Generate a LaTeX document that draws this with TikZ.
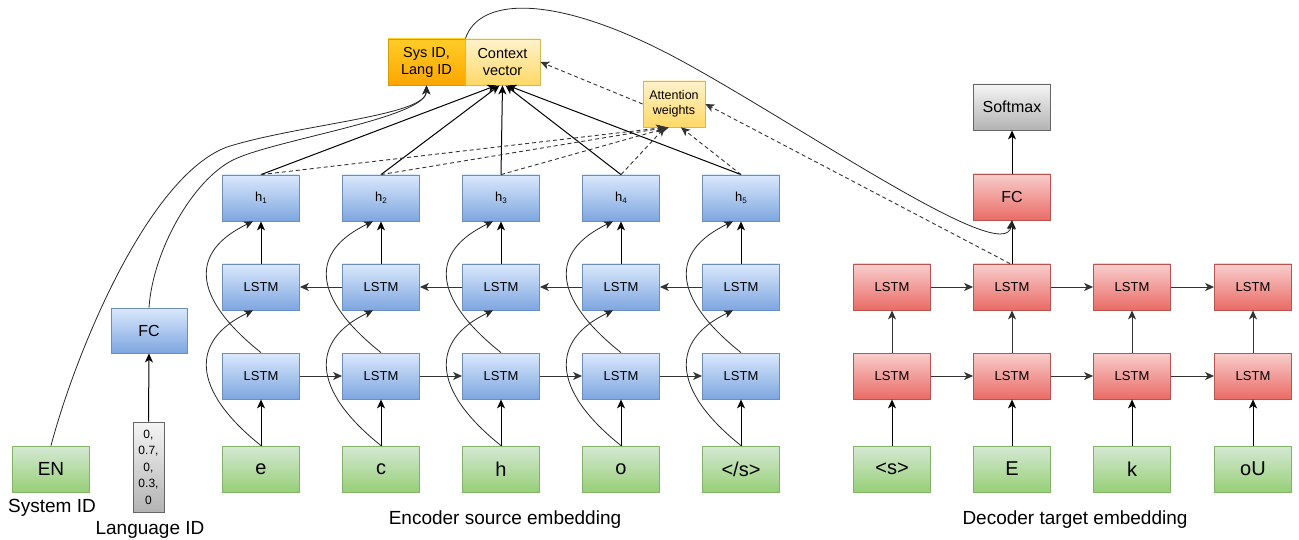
\documentclass[tikz,border=0pt]{standalone}
\usepackage{fontspec}
\setmainfont{Liberation Sans}
\usetikzlibrary{arrows.meta}
\definecolor{encT}{HTML}{DAE8FC}
\definecolor{encB}{HTML}{7EA6E0}
\definecolor{encD}{HTML}{6C8EBF}
\definecolor{decT}{HTML}{F8CECC}
\definecolor{decB}{HTML}{EA6B66}
\definecolor{decD}{HTML}{B85450}
\definecolor{inT}{HTML}{D5E8D4}
\definecolor{inB}{HTML}{97D077}
\definecolor{inD}{HTML}{82B366}
\definecolor{grT}{HTML}{F5F5F5}
\definecolor{grB}{HTML}{B3B3B3}
\definecolor{grD}{HTML}{666666}
\definecolor{orT}{HTML}{FFCD28}
\definecolor{orB}{HTML}{FFA500}
\definecolor{orD}{HTML}{D79B00}
\definecolor{yeT}{HTML}{FFF2CC}
\definecolor{yeB}{HTML}{FFD966}
\definecolor{yeD}{HTML}{D6B656}
\definecolor{lineG}{HTML}{333333}
\newcommand\hsubs[1]{h\raisebox{-1.5pt}{\fontsize{8}{8}\selectfont #1}}
\begin{document}
\begin{tikzpicture}[x=1pt,y=-1pt,
  box/.style={line width=0.8pt, minimum width=77pt, minimum height=46pt, inner sep=0pt, anchor=center},
  enc/.style={box, draw=encD, top color=encT, bottom color=encB, font=\fontsize{13}{15}\selectfont},
  dec/.style={box, draw=decD, top color=decT, bottom color=decB, font=\fontsize{13}{15}\selectfont},
  inp/.style={box, draw=inD, top color=inT, bottom color=inB, font=\fontsize{20}{22}\selectfont},
  gry/.style={box, draw=grD, top color=grT, bottom color=grB, font=\fontsize{16}{18}\selectfont},
  org/.style={box, draw=orD, top color=orT, bottom color=orB, font=\fontsize{14.5}{17}\selectfont, align=center},
  yel/.style={box, draw=yeD, top color=yeT, bottom color=yeB, font=\fontsize{14.5}{17}\selectfont, align=center},
  lab/.style={font=\fontsize{19}{21}\selectfont, inner sep=0pt},
  arr/.style={-{Stealth[length=9pt,width=8pt,inset=2.5pt]}, line width=1pt, draw=black},
  garr/.style={arr, draw=lineG},
  darr/.style={arr, draw=lineG, dash pattern=on 4pt off 3pt, line width=0.9pt},
  curve/.style={arr, line width=0.8pt, draw=black!85}
]
\useasboundingbox (0,0) rectangle (1299,540);

% ---- encoder columns
\foreach \i/\x/\t in {1/261/e, 2/381/c, 3/501/h, 4/621/o, 5/741/{</s>}}{
  \node[enc] (eh\i) at (\x,198) {\hsubs{\i}};
  \node[enc] (eltwo\i) at (\x,287) {LSTM};
  \node[enc] (elone\i) at (\x,376) {LSTM};
  \node[inp] (ein\i) at (\x,469) {\t};
  \draw[arr] (ein\i.north) -- (elone\i.south);
  \draw[arr] (eltwo\i.north) -- (eh\i.south);
  \draw[curve] (ein\i.north) .. controls +(-70,-56) and +(-63,30) .. ([xshift=-8pt]eltwo\i.south);
  \draw[curve] (elone\i.north) .. controls +(-70,-56) and +(-63,30) .. ([xshift=-8pt]eh\i.south);
}
\foreach \i in {1,...,4}{
  \pgfmathtruncatemacro\j{\i+1}
  \draw[garr] (elone\i.east) -- (elone\j.west);
  \draw[garr] (eltwo\j.west) -- (eltwo\i.east);
}

% ---- top nodes
\node[org] (sys) at (426.5,62) {Sys ID,\\Lang ID};
\node[yel, minimum width=75pt] (ctx) at (502.5,62) {Context\\vector};
\node[yel, minimum width=62pt, font=\fontsize{12.5}{15}\selectfont] (att) at (674,104) {Attention\\weights};

% attention connections
\draw[arr] (eh1.north) -- ([xshift=-6pt]ctx.south);
\draw[arr] (eh2.north) -- ([xshift=-3pt]ctx.south);
\draw[arr] (eh3.north) -- ([xshift=0pt]ctx.south);
\draw[arr] (eh4.north) -- ([xshift=3pt]ctx.south);
\draw[arr] (eh5.north) -- ([xshift=5pt]ctx.south);
\draw[darr] (eh1.north) -- ([xshift=-9pt]att.south);
\draw[darr] (eh2.north) -- ([xshift=-7pt]att.south);
\draw[darr] (eh3.north) -- ([xshift=-5pt]att.south);
\draw[darr] (eh4.north) -- ([xshift=-9pt]att.south);
\draw[darr] (eh5.north) -- ([xshift=7pt]att.south);
\draw[darr] (att.west) -- (ctx.east);

% ---- left inputs
\node[inp, font=\fontsize{19}{21}\selectfont] (EN) at (51,469) {EN};
\node[lab] (lsys) at (52,508) {System ID};
\node[box, draw=grD, top color=grT, bottom color=grB, minimum width=31pt, minimum height=90pt,
      font=\fontsize{12}{16.5}\selectfont, align=center] (lv) at (148.5,467) {0,\\0.7,\\0,\\0.3,\\0};
\node[lab] (llang) at (150,530) {Language ID};
\node[enc, font=\fontsize{16}{18}\selectfont, minimum width=76pt, minimum height=45pt] (lfc) at (149,330.5) {FC};
\draw[arr] (lv.north) -- (lfc.south);
\draw[curve] (EN.north) .. controls (75,355) and (147,177) .. (227,147) .. controls (300,124) and (426,116) .. (sys.south);
\draw[curve] (lfc.north) .. controls (153,250) and (193,180) .. (233,160) .. controls (273,140) and (426,118) .. (sys.south);

\node[lab] (lenc) at (505,520) {Encoder source embedding};

% ---- decoder
\foreach \i/\x/\t in {1/892/{<s>}, 2/1012/E, 3/1132/k, 4/1253/oU}{
  \node[dec] (dltwo\i) at (\x,287) {LSTM};
  \node[dec] (dlone\i) at (\x,376) {LSTM};
  \node[inp] (din\i) at (\x,469) {\t};
  \draw[arr] (din\i.north) -- (dlone\i.south);
  \draw[garr] (dlone\i.north) -- (dltwo\i.south);
}
\foreach \i in {1,...,3}{
  \pgfmathtruncatemacro\j{\i+1}
  \draw[garr] (dlone\i.east) -- (dlone\j.west);
  \draw[garr] (dltwo\i.east) -- (dltwo\j.west);
}
\node[dec, font=\fontsize{16}{18}\selectfont] (dfc) at (1012,197) {FC};
\node[gry] (soft) at (1012,107) {Softmax};
\draw[arr] (dltwo2.north) -- (dfc.south);
\draw[arr] (dfc.north) -- (soft.south);
\draw[darr] ([xshift=-2pt]dltwo2.north) -- (att.east);
\draw[curve] (sys.north east) .. controls (480,-5) and (560,-5) .. (680,60) .. controls (800,125) and (1005,268) .. (dfc.south);

\node[lab] (ldec) at (1075,520) {Decoder target embedding};
\end{tikzpicture}
\end{document}
